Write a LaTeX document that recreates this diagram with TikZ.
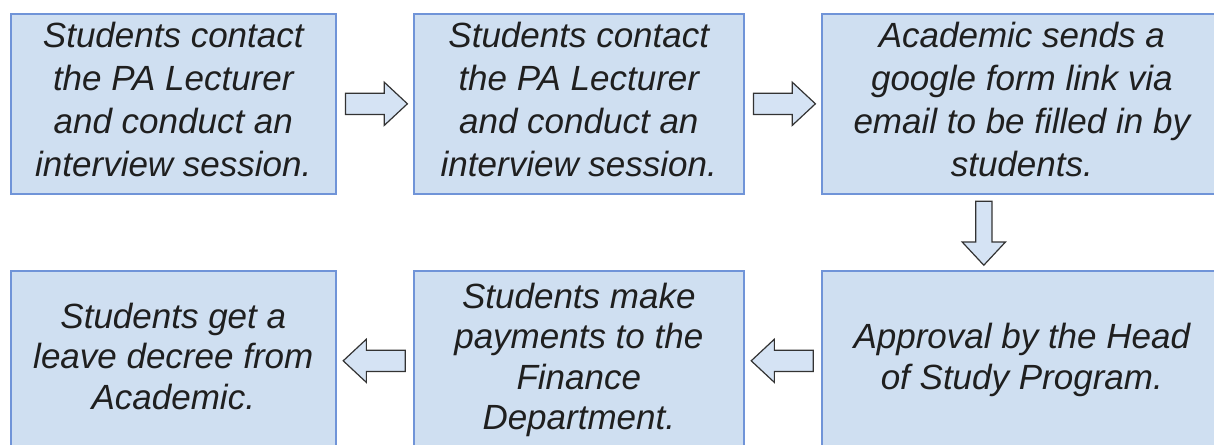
\documentclass[tikz,border=0pt]{standalone}
\usepackage{fontspec}
\setmainfont{Liberation Sans}
\usetikzlibrary{shapes.arrows, calc}

\definecolor{stepfill}{HTML}{CFDFF1}
\definecolor{stepline}{HTML}{7094D8}
\definecolor{arrowfill}{HTML}{D5E3F4}

\newcommand{\steplines}[1]{\begin{tabular}{@{}c@{}}#1\end{tabular}}

\tikzset{
    stepbox/.style = {draw = stepline, line width = 1.6pt, fill = stepfill, anchor = north west, minimum height = 180pt, inner sep = 0pt, text = black!88, font = \fontsize{35}{40.5}\selectfont\itshape},
    toprow/.style = {font = \fontsize{35}{43}\selectfont\itshape},
    flowarrow/.style = {single arrow, draw = black!80, line width = 1.2pt, fill = arrowfill, minimum width = 0pt, inner sep = 10pt, single arrow head extend = 11pt, single arrow tip angle = 86, minimum height = 62pt, anchor = tail}
}

\begin{document}
\begin{tikzpicture}[x = 1pt, y = -1pt]
        \useasboundingbox (0, 0) rectangle (1214, 444);
        \clip (0, 0) rectangle (1214, 444);
        \node[stepbox, toprow, minimum width = 325pt] (s1) at (10, 13) {\steplines{Students contact\\the PA Lecturer\\and conduct an\\interview session.}};
        \node[stepbox, toprow, minimum width = 330pt] (s2) at (413, 13) {\steplines{Students contact\\the PA Lecturer\\and conduct an\\interview session.}};
        \node[stepbox, toprow, minimum width = 400pt] (s3) at (821, 13) {\steplines{Academic sends a\\google form link via\\email to be filled in by\\students.}};
        \node[stepbox, minimum width = 400pt] (s4) at (821, 270) {\steplines{Approval by the Head\\of Study Program.}};
        \node[stepbox, minimum width = 330pt] (s5) at (413, 270) {\steplines{Students make\\payments to the\\Finance\\Department.}};
        \node[stepbox, minimum width = 325pt] (s6) at (10, 270) {\steplines{Students get a\\leave decree from\\Academic.}};
        \foreach \sl/\sr/\rot/\dx in {s1/s2/0/-30, s2/s3/0/-30, s6/s5/180/31, s5/s4/180/31}{
            \node[flowarrow, shape border rotate = \rot] (arr-\sl-\sr) at ($(\sl.east)!0.5!(\sr.west) + (\dx, 0)$) {};
        }
        \node[flowarrow, shape border rotate = 270, inner sep = 7.5pt, single arrow head extend = 13.5pt, minimum height = 64pt] (arr-s3-s4) at ($(s3.south) + (-38, 6)$) {};
    \end{tikzpicture}
\end{document}
